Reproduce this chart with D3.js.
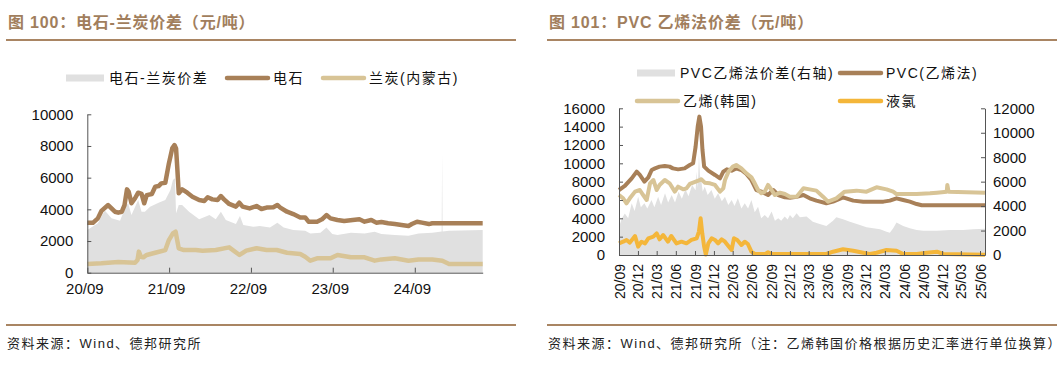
<!DOCTYPE html>
<html><head><meta charset="utf-8">
<script src="https://cdn.jsdelivr.net/npm/d3@7"></script>
<style>
body{margin:0;background:#fff;}
svg{display:block;}
text{font-family:"Liberation Sans","Noto Sans CJK SC",sans-serif;}
</style></head>
<body>
<svg id="c" width="1063" height="366"></svg>
<script>
// ---------- DATA ----------
const leftTitle = "图 100：电石-兰炭价差（元/吨）";
const rightTitle = "图 101：PVC 乙烯法价差（元/吨）";
const leftSource = "资料来源：Wind、德邦研究所";
const rightSource = "资料来源：Wind、德邦研究所（注：乙烯韩国价格根据历史汇率进行单位换算）";

const leftLegend = ["电石-兰炭价差", "电石", "兰炭(内蒙古)"];
const rightLegend = ["PVC乙烯法价差(右轴)", "PVC(乙烯法)", "乙烯(韩国)", "液氯"];

const leftXTicks = ["2020-09-01","2021-09-01","2022-09-01","2023-09-01","2024-09-01"];
const leftYTicks = [0,2000,4000,6000,8000,10000];
const rightXTicks = ["2020-09-01","2020-12-01","2021-03-01","2021-06-01","2021-09-01","2021-12-01","2022-03-01","2022-06-01","2022-09-01","2022-12-01","2023-03-01","2023-06-01","2023-09-01","2023-12-01","2024-03-01","2024-06-01","2024-09-01","2024-12-01","2025-03-01","2025-06-01"];
const rightYTicksL = [0,2000,4000,6000,8000,10000,12000,14000,16000];
const rightYTicksR = [0,2000,4000,6000,8000,10000,12000];

// 电石
const carbide = [["2020-09-01",3160],["2020-09-26",3150],["2020-10-18",3430],["2020-11-03",3900],["2020-12-03",4270],["2020-12-18",4060],["2021-01-02",3850],["2021-01-17",3790],["2021-02-02",3850],["2021-02-14",4270],["2021-02-25",5260],["2021-03-05",5100],["2021-03-17",4380],["2021-04-02",4700],["2021-04-16",5050],["2021-05-01",4970],["2021-05-13",4380],["2021-05-24",4900],["2021-06-16",4970],["2021-07-01",5430],["2021-07-16",5470],["2021-07-28",5640],["2021-08-15",5680],["2021-08-31",6900],["2021-09-07",7330],["2021-09-15",7850],["2021-09-25",8060],["2021-10-02",7850],["2021-10-08",6480],["2021-10-14",5010],["2021-10-29",5260],["2021-11-21",5050],["2021-12-14",4800],["2022-01-13",4590],["2022-02-05",4530],["2022-02-20",4760],["2022-03-13",4630],["2022-04-05",4590],["2022-04-20",4840],["2022-05-04",4630],["2022-05-27",4340],["2022-06-26",4170],["2022-07-11",4420],["2022-07-26",4170],["2022-08-26",4060],["2022-09-26",4210],["2022-10-18",4020],["2022-11-10",4110],["2022-12-10",4130],["2022-12-28",4270],["2023-01-10",4110],["2023-02-09",3850],["2023-03-09",3700],["2023-04-09",3490],["2023-05-01",3490],["2023-05-16",3220],["2023-06-23",3220],["2023-07-15",3370],["2023-08-04",3640],["2023-08-22",3430],["2023-09-22",3330],["2023-10-22",3260],["2023-11-29",3330],["2023-12-29",3370],["2024-01-21",3220],["2024-02-20",3330],["2024-03-13",3160],["2024-04-05",3200],["2024-05-05",3120],["2024-06-04",3070],["2024-07-04",3010],["2024-08-04",2950],["2024-08-19",3070],["2024-09-11",3220],["2024-10-03",3160],["2024-11-03",3070],["2024-11-18",3120],["2025-07-01",3120]];
// 兰炭(内蒙古)
const semicoke = [["2020-09-01",550],["2020-11-03",590],["2021-01-17",670],["2021-04-02",630],["2021-04-13",800],["2021-04-19",1330],["2021-04-28",1010],["2021-05-09",970],["2021-05-24",1120],["2021-07-01",1260],["2021-08-15",1430],["2021-08-31",2060],["2021-09-18",2480],["2021-09-30",2590],["2021-10-07",2060],["2021-10-14",1540],["2021-11-06",1430],["2021-12-29",1430],["2022-01-28",1390],["2022-03-28",1430],["2022-05-27",1600],["2022-07-12",1120],["2022-08-11",1390],["2022-09-26",1540],["2022-11-10",1430],["2022-12-25",1430],["2023-02-09",1260],["2023-04-09",1180],["2023-05-01",1010],["2023-05-24",760],["2023-06-23",910],["2023-08-22",910],["2023-09-22",1120],["2023-11-21",970],["2024-01-21",970],["2024-03-06",760],["2024-04-05",840],["2024-06-04",910],["2024-08-04",760],["2024-09-18",840],["2024-11-18",840],["2025-01-02",760],["2025-02-01",550],["2025-07-01",550]];
// 电石-兰炭价差
const carbideSpread = [["2020-09-01",2690],["2020-10-18",3120],["2020-11-18",3920],["2020-12-18",3430],["2021-01-25",3280],["2021-02-20",4210],["2021-03-02",4380],["2021-03-17",3640],["2021-04-16",4590],["2021-05-01",3850],["2021-05-16",3850],["2021-06-08",4170],["2021-07-16",4420],["2021-08-15",4590],["2021-09-07",5220],["2021-09-18",5850],["2021-09-27",5960],["2021-10-02",3750],["2021-10-14",4270],["2021-10-29",4270],["2021-11-29",3850],["2022-01-13",3370],["2022-02-28",3640],["2022-03-28",3370],["2022-04-20",3850],["2022-05-12",3330],["2022-06-26",3070],["2022-07-14",3580],["2022-07-29",3010],["2022-09-11",2900],["2022-10-10",2950],["2022-11-25",2860],["2022-12-28",3160],["2023-01-25",2860],["2023-03-09",2690],["2023-05-01",2650],["2023-05-24",2480],["2023-07-08",2530],["2023-08-04",2860],["2023-08-30",2440],["2023-09-22",2380],["2023-11-21",2530],["2024-01-21",2480],["2024-03-06",2590],["2024-04-05",2440],["2024-06-04",2380],["2024-08-04",2340],["2024-09-18",2480],["2024-11-18",2530],["2024-12-30",2600],["2025-01-01",7560],["2025-01-03",2600],["2025-02-01",2650],["2025-07-01",2690]];

// PVC(乙烯法)
const pvc = [["2020-09-01",7090],["2020-09-29",7530],["2020-11-01",8360],["2020-11-25",9090],["2020-12-10",8730],["2021-01-01",8000],["2021-01-20",8470],["2021-02-05",9270],["2021-02-21",9450],["2021-03-15",9640],["2021-04-09",9710],["2021-05-02",9640],["2021-05-18",9450],["2021-06-12",9340],["2021-07-13",9450],["2021-08-07",9820],["2021-08-23",10000],["2021-09-04",11820],["2021-09-14",14000],["2021-09-22",15090],["2021-09-30",14000],["2021-10-07",11450],["2021-10-15",9640],["2021-11-04",9200],["2021-12-06",8730],["2021-12-30",8360],["2022-01-15",9090],["2022-02-01",9340],["2022-02-24",9200],["2022-03-18",9450],["2022-04-12",9270],["2022-05-06",8830],["2022-05-30",8180],["2022-06-23",7090],["2022-07-17",6910],["2022-08-18",6540],["2022-09-12",7090],["2022-10-06",6540],["2022-11-07",6290],["2022-12-01",6250],["2023-01-02",6360],["2023-02-04",6540],["2023-03-06",6180],["2023-04-07",5930],["2023-05-25",5640],["2023-06-26",5820],["2023-08-13",6290],["2023-10-01",5930],["2023-11-18",5820],["2024-01-05",5820],["2024-02-23",5820],["2024-03-25",5930],["2024-04-26",6180],["2024-05-28",6000],["2024-06-29",5820],["2024-08-01",5560],["2024-08-25",5420],["2025-06-25",5420]];
// 乙烯(韩国)
const ethylene = [["2020-09-01",6540],["2020-09-21",6180],["2020-10-07",5640],["2020-10-23",6180],["2020-11-17",6910],["2020-12-10",7090],["2020-12-26",6540],["2021-01-12",6000],["2021-01-28",7820],["2021-02-13",8180],["2021-03-01",7090],["2021-03-15",7640],["2021-04-09",8180],["2021-05-02",7820],["2021-05-27",6910],["2021-06-12",7450],["2021-07-06",7160],["2021-07-22",7270],["2021-08-07",7750],["2021-08-23",7890],["2021-09-17",8110],["2021-10-02",8250],["2021-10-18",7890],["2021-11-12",7820],["2021-12-06",7640],["2021-12-30",6910],["2022-01-15",7270],["2022-01-23",8180],["2022-02-09",9090],["2022-03-02",9640],["2022-03-18",9820],["2022-04-12",9450],["2022-05-06",8910],["2022-05-30",8470],["2022-06-15",7820],["2022-07-01",7090],["2022-07-17",6730],["2022-08-02",6910],["2022-08-18",7640],["2022-09-04",7090],["2022-09-20",6540],["2022-10-14",6800],["2022-11-07",6650],["2022-12-01",6360],["2023-01-02",6360],["2023-02-04",7270],["2023-03-06",7160],["2023-04-07",7020],["2023-05-09",6360],["2023-06-02",5820],["2023-07-12",6180],["2023-08-21",6910],["2023-10-17",7020],["2023-12-04",6910],["2024-01-21",7380],["2024-03-09",7160],["2024-04-10",6910],["2024-04-26",6650],["2024-08-01",6650],["2024-10-04",6730],["2024-11-06",6800],["2024-12-23",6910],["2024-12-26",7640],["2025-01-01",6910],["2025-06-25",6800]];
// 液氯
const chlorine = [["2020-09-01",1270],["2020-09-21",1450],["2020-10-07",1640],["2020-10-23",1350],["2020-11-17",2070],["2020-12-02",910],["2020-12-18",1450],["2021-01-04",1270],["2021-01-20",1820],["2021-02-13",2000],["2021-03-01",2360],["2021-03-15",1710],["2021-04-01",2180],["2021-04-24",1450],["2021-05-10",2070],["2021-06-04",1270],["2021-06-28",1450],["2021-07-22",1270],["2021-08-15",1640],["2021-09-09",1820],["2021-09-20",2550],["2021-09-28",4000],["2021-10-06",2360],["2021-10-15",910],["2021-10-23",50],["2021-11-04",1270],["2021-11-20",1820],["2021-12-06",1640],["2021-12-21",1270],["2022-01-07",1710],["2022-01-23",1450],["2022-02-11",910],["2022-02-24",550],["2022-03-07",1820],["2022-03-23",1640],["2022-04-12",1090],["2022-04-28",1450],["2022-05-13",1200],["2022-05-30",360],["2022-06-15",110],["2022-08-05",110],["2022-08-18",300],["2022-09-04",110],["2023-05-25",110],["2023-06-26",360],["2023-08-13",620],["2023-10-01",470],["2023-11-18",250],["2023-12-20",110],["2024-01-21",250],["2024-03-09",545],["2024-04-26",470],["2024-05-28",110],["2024-08-01",110],["2024-09-18",250],["2024-11-06",360],["2024-12-07",110],["2025-06-25",40]];
// PVC乙烯法价差(右轴)
const pvcSpread = [["2020-09-01",2300],["2020-09-15",3000],["2020-09-29",3400],["2020-10-15",3000],["2020-11-01",4230],["2020-11-15",3600],["2020-12-02",4770],["2020-12-15",3900],["2021-01-01",4230],["2021-01-15",3800],["2021-02-04",4500],["2021-02-18",3900],["2021-03-08",4770],["2021-03-22",4100],["2021-04-10",5050],["2021-04-25",4300],["2021-05-12",4910],["2021-05-28",4300],["2021-06-14",5180],["2021-06-30",4600],["2021-07-17",5370],["2021-08-01",4800],["2021-08-18",5730],["2021-09-04",5300],["2021-09-09",6820],["2021-09-15",5500],["2021-09-20",8300],["2021-09-25",6400],["2021-09-29",6410],["2021-10-08",5200],["2021-10-18",5590],["2021-11-01",4900],["2021-11-19",5320],["2021-12-05",4600],["2021-12-21",5050],["2022-01-08",4400],["2022-01-23",4770],["2022-02-08",4100],["2022-02-24",4500],["2022-03-10",4000],["2022-03-26",4640],["2022-04-12",3800],["2022-04-28",4230],["2022-05-14",3800],["2022-05-30",4500],["2022-06-15",3500],["2022-07-01",3950],["2022-07-16",3000],["2022-08-02",3270],["2022-08-18",3000],["2022-09-04",3550],["2022-09-20",2800],["2022-10-06",3000],["2022-10-20",2800],["2022-11-06",3140],["2022-11-20",2900],["2022-12-01",3270],["2022-12-15",3000],["2023-01-02",3410],["2023-01-18",3080],["2023-02-19",3140],["2023-03-21",2730],["2023-04-23",2540],["2023-05-25",2370],["2023-06-26",2810],["2023-07-12",3080],["2023-08-13",2920],["2023-09-15",2730],["2023-11-02",2450],["2023-12-04",2260],["2024-01-05",2180],["2024-02-07",2100],["2024-03-09",1910],["2024-03-25",1830],["2024-04-10",2180],["2024-04-26",2650],["2024-05-28",2370],["2024-06-29",2180],["2024-08-01",2050],["2024-09-02",1990],["2024-11-06",1990],["2025-01-09",2050],["2025-03-12",2050],["2025-04-30",2100],["2025-06-25",2150]];

// ---------- DRAW ----------
const parse = d3.timeParse("%Y-%m-%d");
const toPts = arr => arr.map(d => ({date: parse(d[0]), v: d[1]}));
const svg = d3.select("#c");
const BROWN = "#a88058", TAN = "#d8c496", GOLD = "#f4b63a", GRAY = "#e0e0e0";
const TITLE = "#a17e5d", RULE = "#a98563", AXIS = "#555";

function header(x0, x1, title, source){
  svg.append("text").attr("x", x0 + 2).attr("y", 28).text(title)
    .attr("font-size", 16).attr("font-weight", "bold").attr("fill", TITLE).attr("letter-spacing", 0.8);
  svg.append("line").attr("x1", x0).attr("x2", x1).attr("y1", 40).attr("y2", 40).attr("stroke", RULE).attr("stroke-width", 2);
  svg.append("line").attr("x1", x0).attr("x2", x1).attr("y1", 325).attr("y2", 325).attr("stroke", RULE).attr("stroke-width", 2);
  svg.append("text").attr("x", x0 + 1).attr("y", 348).text(source)
    .attr("font-size", 13).attr("fill", "#222").attr("letter-spacing", 1.5);
}
header(6, 516, leftTitle, leftSource);
header(547, 1057, rightTitle, rightSource);

function styleAxis(g){
  g.selectAll(".domain").attr("stroke", AXIS);
  g.selectAll(".tick line").attr("stroke", AXIS);
  g.selectAll("text").attr("font-size", 15).attr("fill", "#111").attr("font-family", "Liberation Sans, Arial, sans-serif");
}
function legendItem(g, type, x, y, color, label){
  if (type === "rect") g.append("rect").attr("x", x).attr("y", y - 3.5).attr("width", 38).attr("height", 7).attr("fill", color);
  else g.append("line").attr("x1", x).attr("x2", x + 41).attr("y1", y).attr("y2", y).attr("stroke", color).attr("stroke-width", 4.5).attr("stroke-linecap", "round");
  g.append("text").attr("x", x + (type === "rect" ? 43 : 46)).attr("y", y).attr("dy", "0.36em").text(label)
    .attr("font-size", 14).attr("letter-spacing", 1.5).attr("fill", "#111");
}

// ----- Left chart -----
{
  const g = svg.append("g");
  const x = d3.scaleTime().domain([parse("2020-09-01"), parse("2025-07-01")]).range([87.3, 482.7]);
  const y = d3.scaleLinear().domain([0, 10000]).range([272.7, 114.3]);
  const area = d3.area().x(d => x(d.date)).y0(y(0)).y1(d => y(d.v));
  const line = d3.line().x(d => x(d.date)).y(d => y(d.v)).curve(d3.curveLinear);
  g.append("path").datum(toPts(carbideSpread)).attr("d", area).attr("fill", GRAY);
  g.append("path").datum(toPts(semicoke)).attr("d", line).attr("fill", "none").attr("stroke", TAN).attr("stroke-width", 4.5).attr("stroke-linejoin", "round");
  g.append("path").datum(toPts(carbide)).attr("d", line).attr("fill", "none").attr("stroke", BROWN).attr("stroke-width", 4.5).attr("stroke-linejoin", "round");
  const ya = g.append("g").attr("transform", "translate(87.3,0)")
    .call(d3.axisLeft(y).tickValues(leftYTicks).tickSizeInner(-4).tickSizeOuter(0).tickPadding(14).tickFormat(d3.format("d")));
  styleAxis(ya);
  const xa = g.append("g").attr("transform", "translate(0,272.7)")
    .call(d3.axisBottom(x).tickValues(leftXTicks.map(parse)).tickSizeInner(-5).tickSizeOuter(0).tickPadding(11).tickFormat(d3.timeFormat("%y/%m")));
  styleAxis(xa);
  xa.selectAll("text").attr("dx", "-3");
  legendItem(g, "rect", 66, 78, GRAY, leftLegend[0]);
  legendItem(g, "line", 227, 78, BROWN, leftLegend[1]);
  legendItem(g, "line", 323, 78, TAN, leftLegend[2]);
}

// ----- Right chart -----
{
  const g = svg.append("g");
  const x = d3.scaleTime().domain([parse("2020-09-01"), parse("2025-06-25")]).range([619, 985]);
  const yL = d3.scaleLinear().domain([0, 16000]).range([255, 108.3]);
  const yR = d3.scaleLinear().domain([0, 12000]).range([255, 108.3]);
  const area = d3.area().x(d => x(d.date)).y0(yR(0)).y1(d => yR(d.v));
  const line = d3.line().x(d => x(d.date)).y(d => yL(d.v));
  g.append("path").datum(toPts(pvcSpread)).attr("d", area).attr("fill", GRAY);
  g.append("path").datum(toPts(pvc)).attr("d", line).attr("fill", "none").attr("stroke", BROWN).attr("stroke-width", 4).attr("stroke-linejoin", "round");
  g.append("path").datum(toPts(ethylene)).attr("d", line).attr("fill", "none").attr("stroke", TAN).attr("stroke-width", 4).attr("stroke-linejoin", "round");
  g.append("path").datum(toPts(chlorine)).attr("d", line).attr("fill", "none").attr("stroke", GOLD).attr("stroke-width", 4).attr("stroke-linejoin", "round");
  const yla = g.append("g").attr("transform", "translate(619,0)")
    .call(d3.axisLeft(yL).tickValues(rightYTicksL).tickSizeInner(-4).tickSizeOuter(0).tickPadding(14).tickFormat(d3.format("d")));
  styleAxis(yla);
  const yra = g.append("g").attr("transform", "translate(985,0)")
    .call(d3.axisRight(yR).tickValues(rightYTicksR).tickSizeInner(-4).tickSizeOuter(0).tickPadding(8).tickFormat(d3.format("d")));
  styleAxis(yra);
  const xa = g.append("g").attr("transform", "translate(0,255)")
    .call(d3.axisBottom(x).tickValues(rightXTicks.map(parse)).tickSizeInner(-4).tickSizeOuter(0).tickFormat(d3.timeFormat("%y/%m")));
  styleAxis(xa);
  xa.selectAll(".tick text").attr("transform", "rotate(-90)").attr("text-anchor", "end")
    .attr("x", -9).attr("y", 0).attr("dy", "0.36em").attr("font-size", 14);
  legendItem(g, "rect", 637, 73, GRAY, rightLegend[0]);
  legendItem(g, "line", 840, 73, BROWN, rightLegend[1]);
  legendItem(g, "line", 637, 101, TAN, rightLegend[2]);
  legendItem(g, "line", 840, 101, GOLD, rightLegend[3]);
}
</script>
</body></html>
